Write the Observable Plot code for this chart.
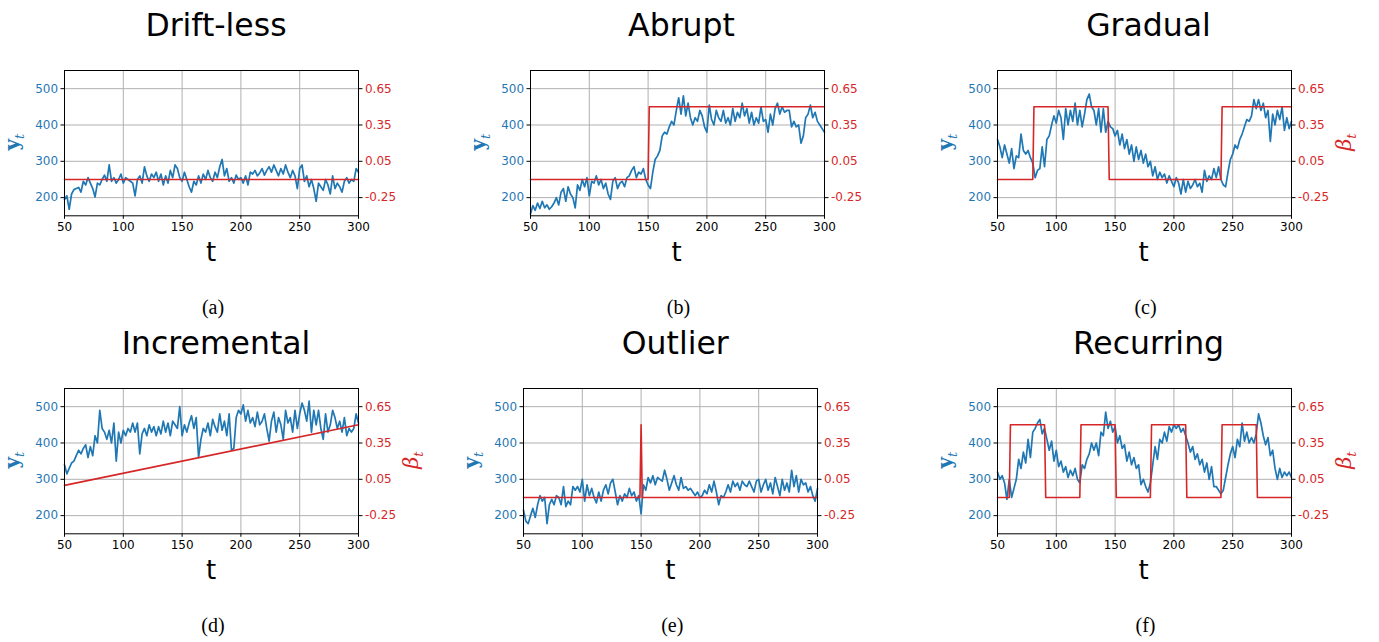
<!DOCTYPE html>
<html>
<head>
<meta charset="utf-8">
<script src="https://cdn.jsdelivr.net/npm/d3@7"></script>
<script src="https://cdn.jsdelivr.net/npm/@observablehq/plot@0.6"></script>
<style>
  body { margin: 0; background: #fff; }
  #fig { position: relative; width: 1379px; height: 642px; overflow: hidden; background: #fff; }
  .panel { position: absolute; }
  #overlay { position: absolute; left: 0; top: 0; pointer-events: none; }
</style>
</head>
<body>
<div id="fig"></div>
<script>
// ---------------- DATA ----------------
const titles = ["Drift-less", "Abrupt", "Gradual", "Incremental", "Outlier", "Recurring"];
const captions = ["(a)", "(b)", "(c)", "(d)", "(e)", "(f)"];
const xTicks = [50, 100, 150, 200, 250, 300];
const yTicks = [200, 300, 400, 500];
const betaTicks = [-0.25, 0.05, 0.35, 0.65];
const tStart = 50, tStep = 2;   // y_t sampled every 2 steps from t = 50 to 300

const yDriftless = [
  195,205,168,210,222,225,228,215,245,235,
  255,240,225,202,240,235,250,262,245,290,
  245,255,240,250,265,240,255,250,245,240,
  205,250,260,240,285,260,245,265,255,270,
  245,265,235,260,240,275,255,290,280,255,
  245,270,250,230,215,245,235,260,240,265,
  250,275,255,245,270,255,285,305,260,280,
  245,255,240,262,250,255,240,260,235,270,
  265,275,260,268,280,262,275,285,270,290,
  275,260,280,265,290,270,255,275,260,225,
  280,290,245,260,230,250,225,190,240,230,
  220,250,235,210,260,225,240,230,215,245,
  255,240,250,245,280,270
];
const yAbrupt = [
  155,178,165,185,170,190,172,180,168,175,
  185,200,180,215,225,190,230,210,200,172,
  235,220,250,230,255,205,245,240,260,235,
  250,225,240,210,195,245,255,225,240,245,
  230,255,260,275,285,255,270,265,280,250,
  235,225,270,305,315,330,370,380,375,395,
  410,400,440,475,430,480,425,460,420,400,
  420,410,440,425,395,380,455,415,400,440,
  420,410,440,405,420,400,445,410,435,420,
  460,425,445,405,435,400,420,405,450,410,
  415,380,430,400,445,460,430,450,435,440,
  440,395,410,395,400,350,370,420,430,455,
  420,435,410,400,390,380
];
const yGradual = [
  360,340,310,345,320,295,335,280,315,310,
  375,330,320,330,310,295,255,275,280,340,
  285,360,370,400,425,405,440,420,360,445,
  400,440,410,460,400,440,395,430,470,485,
  450,440,400,445,380,445,380,410,395,390,
  370,385,345,375,335,360,320,345,300,340,
  305,330,295,320,285,300,260,285,250,270,
  255,265,240,260,245,230,255,240,210,250,
  215,245,225,235,250,230,240,215,275,245,
  260,250,280,255,285,250,235,230,270,305,
  320,345,335,360,375,395,415,410,425,470,
  445,470,440,460,420,440,355,430,400,440,
  415,450,385,420,390,410
];
const yIncremental = [
  340,315,330,345,350,365,380,370,385,395,
  360,390,365,420,400,490,440,430,410,435,
  400,455,350,430,400,435,420,440,430,455,
  430,455,370,425,440,420,450,430,445,420,
  445,425,460,430,455,420,460,450,440,500,
  420,450,430,455,475,440,470,360,410,440,
  430,455,420,465,445,430,480,435,460,420,
  480,380,385,470,490,480,505,460,490,455,
  470,445,485,450,460,480,440,405,460,485,
  430,470,450,410,490,455,470,430,490,440,
  480,510,490,460,515,430,490,450,490,440,
  410,480,430,450,490,470,440,460,430,470,
  420,440,430,440,480,455
];
const yOutlier = [
  215,185,178,200,220,195,230,255,240,250,
  178,230,245,230,255,250,230,280,225,240,
  230,280,270,280,265,300,240,285,255,275,
  250,235,265,240,270,285,260,290,300,265,
  230,255,240,260,250,275,255,265,240,255,
  205,285,270,305,290,310,285,305,300,295,
  325,300,270,290,310,285,270,305,275,280,
  270,275,265,255,265,250,255,270,260,285,
  265,295,265,230,255,250,265,285,265,295,
  280,290,270,295,285,280,295,280,265,295,
  300,265,285,300,270,290,260,305,280,255,
  300,270,290,265,325,280,310,265,300,285,
  290,265,280,255,240,275
];
const yRecurring = [
  320,300,310,290,245,300,250,275,300,355,
  330,375,345,410,360,430,440,455,465,425,
  440,410,380,405,350,380,335,350,320,335,
  305,325,310,330,300,290,340,330,355,370,
  400,380,400,365,430,420,485,440,460,430,
  445,400,420,385,395,350,375,340,360,330,
  340,285,300,280,265,290,340,390,355,410,
  400,430,405,445,430,450,440,450,430,440,
  420,400,375,390,355,370,340,355,320,345,
  300,335,280,280,270,260,270,305,340,370,
  390,360,410,390,455,405,430,400,415,400,
  425,480,455,420,395,415,365,380,330,300,
  330,305,320,310,320,305
];

// beta_t (red, right axis): change points
const betaT_driftless = [50, 300];
const betaV_driftless = [-0.1, -0.1];
const betaT_abrupt = [50, 150, 151, 300];
const betaV_abrupt = [-0.1, -0.1, 0.5, 0.5];
const betaT_gradual = [50, 80, 81, 144, 145, 240, 241, 300];
const betaV_gradual = [-0.1, -0.1, 0.5, 0.5, -0.1, -0.1, 0.5, 0.5];
const betaT_incremental = [50, 300];
const betaV_incremental = [0.0, 0.5];
const betaT_outlier = [50, 149, 150, 151, 300];
const betaV_outlier = [-0.1, -0.1, 0.5, -0.1, -0.1];
const betaT_recurring = [50, 60, 61, 90, 91, 120, 121, 150, 151, 180, 181, 210, 211, 240, 241, 270, 271, 300];
const betaV_recurring = [-0.1, -0.1, 0.5, 0.5, -0.1, -0.1, 0.5, 0.5, -0.1, -0.1, 0.5, 0.5, -0.1, -0.1, 0.5, 0.5, -0.1, -0.1];

// ---------------- LAYOUT ----------------
const BLUE = "#1f77b4", RED = "#d62728";
const W = 294, H = 145.3;
const ML = 60, MR = 72, MT = 6, MB = 30;
const panels = [
  {vals: yDriftless,   bt: betaT_driftless,   bv: betaV_driftless,   left: 64,    top: 69.5,  showBeta: false},
  {vals: yAbrupt,      bt: betaT_abrupt,      bv: betaV_abrupt,      left: 529.5, top: 69.5,  showBeta: false},
  {vals: yGradual,     bt: betaT_gradual,     bv: betaV_gradual,     left: 996.5, top: 69.5,  showBeta: true},
  {vals: yIncremental, bt: betaT_incremental, bv: betaV_incremental, left: 64,    top: 387.5, showBeta: true},
  {vals: yOutlier,     bt: betaT_outlier,     bv: betaV_outlier,     left: 523.3, top: 387.5, showBeta: false},
  {vals: yRecurring,   bt: betaT_recurring,   bv: betaV_recurring,   left: 996.5, top: 387.5, showBeta: true}
];

// right-axis mapping: beta -0.25 <-> y 200, 0.65 <-> y 500
const betaToY = b => 200 + (b + 0.25) / 0.003;
const yToBetaLabel = v => ((v - 200) * 0.003 - 0.25).toFixed(2);

const fig = document.getElementById("fig");

panels.forEach((p) => {
  const data = p.vals.map((v, i) => ({t: tStart + tStep * i, v}));
  const red = p.bt.map((t, i) => ({t, b: p.bv[i]}));
  const chart = Plot.plot({
    width: W + ML + MR,
    height: H + MT + MB,
    marginLeft: ML, marginRight: MR, marginTop: MT, marginBottom: MB,
    style: {fontFamily: "DejaVu Sans", fontSize: "12px", background: "transparent", overflow: "visible", color: "#000"},
    x: {domain: [50, 300]},
    y: {domain: [150, 550]},
    marks: [
      Plot.gridX(xTicks, {stroke: "#b0b0b0", strokeOpacity: 1, strokeWidth: 1}),
      Plot.gridY(yTicks, {stroke: "#b0b0b0", strokeOpacity: 1, strokeWidth: 1}),
      Plot.line(data, {x: "t", y: "v", stroke: BLUE, strokeWidth: 1.7}),
      Plot.line(red, {x: "t", y: d => betaToY(d.b), stroke: RED, strokeWidth: 1.6}),
      Plot.frame({stroke: "#000", strokeWidth: 1}),
      Plot.axisX(xTicks, {tickSize: 3.5, tickPadding: 3, label: null, fill: "#000", stroke: "#000"}),
      Plot.axisY(yTicks, {anchor: "left", tickSize: 3.5, tickPadding: 3, label: null, fill: BLUE, stroke: "#000"}),
      Plot.axisY(betaTicks.map(betaToY), {anchor: "right", tickSize: 3.5, tickPadding: 3, label: null, fill: RED, stroke: "#000", tickFormat: yToBetaLabel})
    ]
  });
  chart.classList.add("panel");
  chart.style.left = (p.left - ML) + "px";
  chart.style.top = (p.top - MT) + "px";
  fig.appendChild(chart);
});

// ---------------- TEXT OVERLAY ----------------
const svg = d3.select(fig).append("svg").attr("id", "overlay").attr("width", 1379).attr("height", 642);
panels.forEach((p, i) => {
  const cx = p.left + W / 2;
  const cy = p.top + H / 2;
  svg.append("text").attr("x", cx + 5).attr("y", p.top - 33.5)
    .attr("text-anchor", "middle").attr("font-family", "DejaVu Sans").attr("font-size", 31.5).attr("fill", "#000")
    .text(titles[i]);
  svg.append("text").attr("x", cx).attr("y", p.top + 191.5)
    .attr("text-anchor", "middle").attr("font-family", "DejaVu Sans").attr("font-size", 26).attr("fill", "#000")
    .text("t");
  svg.append("text").attr("x", cx + 2).attr("y", p.top + 244.5)
    .attr("text-anchor", "middle").attr("font-family", "Liberation Serif").attr("font-size", 20).attr("fill", "#000")
    .text(captions[i]);
  const yl = svg.append("text").attr("transform", `translate(${p.left - 45},${cy}) rotate(-90)`)
    .attr("text-anchor", "middle").attr("fill", BLUE).attr("font-family", "DejaVu Serif");
  yl.append("tspan").attr("font-weight", "bold").attr("font-size", 20).text("y");
  yl.append("tspan").attr("font-style", "italic").attr("font-size", 13).attr("dy", 5).text("t");
  if (p.showBeta) {
    const bl = svg.append("text").attr("transform", `translate(${p.left + W + 60},${cy}) rotate(-90)`)
      .attr("text-anchor", "middle").attr("fill", RED).attr("font-family", "DejaVu Serif");
    bl.append("tspan").attr("font-style", "italic").attr("font-size", 21).text("β");
    bl.append("tspan").attr("font-style", "italic").attr("font-size", 13).attr("dy", 5).text("t");
  }
});
</script>
</body>
</html>
